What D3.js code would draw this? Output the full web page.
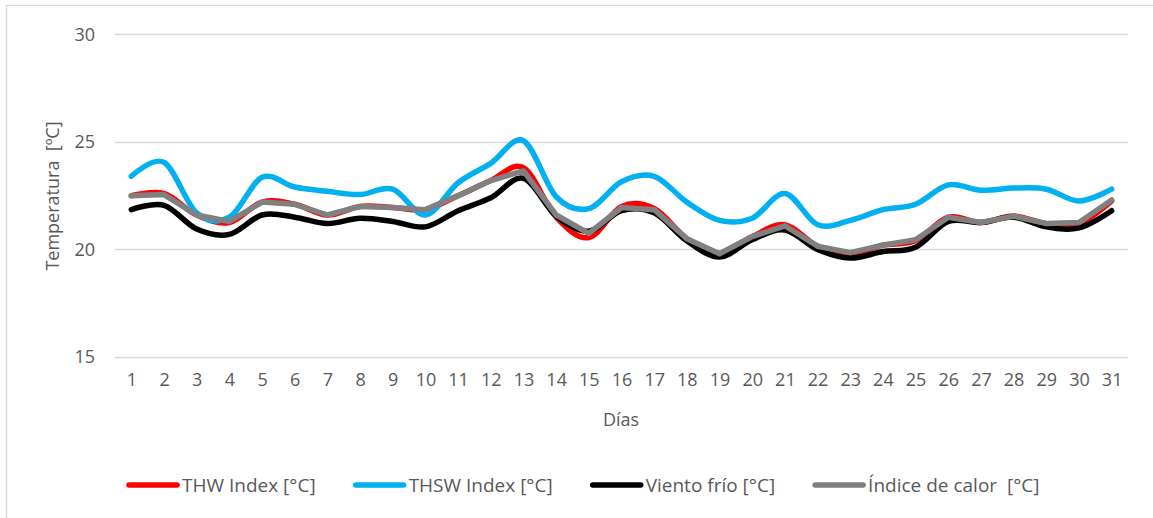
<!DOCTYPE html>
<meta charset="utf-8">
<title>Temperatura diaria</title>
<style>

body {
  margin: 0;
  background: #fff;
}

text {
  font-family: "Open Sans", "Noto Sans", sans-serif;
  fill: #595959;
  white-space: pre;
}

</style>
<body>
<script src="https://d3js.org/d3.v7.min.js"></script>
<script>

// dias del mes
var dias = ["1","2","3","4","5","6","7","8","9","10","11","12","13","14","15","16",
            "17","18","19","20","21","22","23","24","25","26","27","28","29","30","31"];

var yTicks = [15, 20, 25, 30];

// series [°C]
var thw = [22.5, 22.6, 21.6, 21.25, 22.2, 22.1, 21.6, 22.0, 21.95, 21.85, 22.5, 23.2, 23.8, 21.5, 20.55,
           22.0, 21.9, 20.5, 19.8, 20.6, 21.15, 20.15, 19.8, 20.2, 20.4, 21.5, 21.25, 21.55, 21.2, 21.2, 22.25];
var thsw = [23.4, 24.05, 21.7, 21.5, 23.35, 22.9, 22.7, 22.55, 22.8, 21.6, 23.1, 24.0, 25.05, 22.45, 21.9,
            23.15, 23.4, 22.2, 21.35, 21.45, 22.6, 21.15, 21.35, 21.85, 22.1, 23.0, 22.75, 22.85, 22.8, 22.25, 22.8];
var viento = [21.85, 22.05, 20.95, 20.7, 21.6, 21.5, 21.2, 21.45, 21.3, 21.05, 21.8, 22.4, 23.3, 21.55, 20.85,
              21.8, 21.7, 20.4, 19.65, 20.45, 20.9, 20.0, 19.6, 19.9, 20.1, 21.3, 21.25, 21.5, 21.05, 21.0, 21.8];
var calor = [22.5, 22.55, 21.6, 21.3, 22.2, 22.1, 21.6, 22.0, 21.95, 21.85, 22.5, 23.2, 23.65, 21.6, 20.75,
             21.95, 21.85, 20.5, 19.8, 20.6, 21.1, 20.15, 19.85, 20.2, 20.45, 21.5, 21.25, 21.55, 21.2, 21.25, 22.3];

var series = [
  {name: "THW Index [°C]", values: thw, color: "#ff0000", smooth: true},
  {name: "THSW Index [°C]", values: thsw, color: "#00b0f0", smooth: true},
  {name: "Viento frío [°C]", values: viento, color: "#000000", smooth: true},
  {name: "Índice de calor  [°C]", values: calor, color: "#808080", smooth: false}
];

var width = 1153,
    height = 518;

var svg = d3.select("body")
  .append("svg")
  .attr("width", width)
  .attr("height", height);

// borde del grafico (solo se ven izquierda y arriba)
svg.append("rect")
  .attr("x", 6.5)
  .attr("y", 5.5)
  .attr("width", width + 20)
  .attr("height", height + 20)
  .attr("fill", "none")
  .attr("stroke", "#d9d9d9")
  .attr("stroke-width", 1.3);

var x = d3.scalePoint()
  .domain(dias)
  .range([115, 1128])
  .padding(0.5);

var y = d3.scaleLinear()
  .domain([15, 30])
  .range([357, 34.3]);

// lineas de la grilla
svg.append("g")
  .selectAll("line")
  .data(yTicks)
  .enter().append("line")
    .attr("x1", 115)
    .attr("x2", 1128)
    .attr("y1", function(d) { return Math.round(y(d)) + 0.5; })
    .attr("y2", function(d) { return Math.round(y(d)) + 0.5; })
    .attr("stroke", "#d9d9d9")
    .attr("stroke-width", 1.5);

// eje y
var yAxis = svg.append("g")
  .attr("transform", "translate(115,0)")
  .call(d3.axisLeft(y).tickValues(yTicks).tickSize(0).tickPadding(20));
yAxis.select(".domain").remove();
yAxis.selectAll("text")
  .style("font-size", "18px")
  .attr("fill", "#595959");

// eje x
var xAxis = svg.append("g")
  .attr("transform", "translate(0,357)")
  .call(d3.axisBottom(x).tickSize(0).tickPadding(16));
xAxis.select(".domain").remove();
xAxis.selectAll("text")
  .style("font-size", "18px")
  .attr("fill", "#595959");

// titulos de ejes
svg.append("text")
  .attr("x", 621)
  .attr("y", 426)
  .attr("text-anchor", "middle")
  .style("font-size", "18px")
  .text("Días");

svg.append("text")
  .attr("transform", "translate(59,196) rotate(-90)")
  .attr("text-anchor", "middle")
  .style("font-size", "18px")
  .text("Temperatura  [ºC]");

// lineas
var lineSmooth = d3.line()
  .x(function(d, i) { return x(dias[i]); })
  .y(function(d) { return y(d); })
  .curve(d3.curveCardinal.tension(0));

var lineStraight = d3.line()
  .x(function(d, i) { return x(dias[i]); })
  .y(function(d) { return y(d); });

svg.append("g")
  .selectAll("path")
  .data(series)
  .enter().append("path")
    .attr("d", function(s) { return (s.smooth ? lineSmooth : lineStraight)(s.values); })
    .attr("fill", "none")
    .attr("stroke", function(s) { return s.color; })
    .attr("stroke-width", 5.5)
    .attr("stroke-linecap", "round")
    .attr("stroke-linejoin", "round");

// leyenda
var legend = svg.append("g")
  .attr("transform", "translate(0,485)");

var lx = 129;
series.forEach(function(s) {
  var item = legend.append("g").attr("transform", "translate(" + lx + ",0)");
  item.append("line")
    .attr("x1", 0)
    .attr("x2", 48)
    .attr("stroke", s.color)
    .attr("stroke-width", 5.5)
    .attr("stroke-linecap", "round");
  var t = item.append("text")
    .attr("x", 53)
    .attr("dy", "0.35em")
    .style("font-size", "19px")
    .text(s.name);
  lx += 53 + t.node().getComputedTextLength() + 40;
});

</script>
</body>
</html>
